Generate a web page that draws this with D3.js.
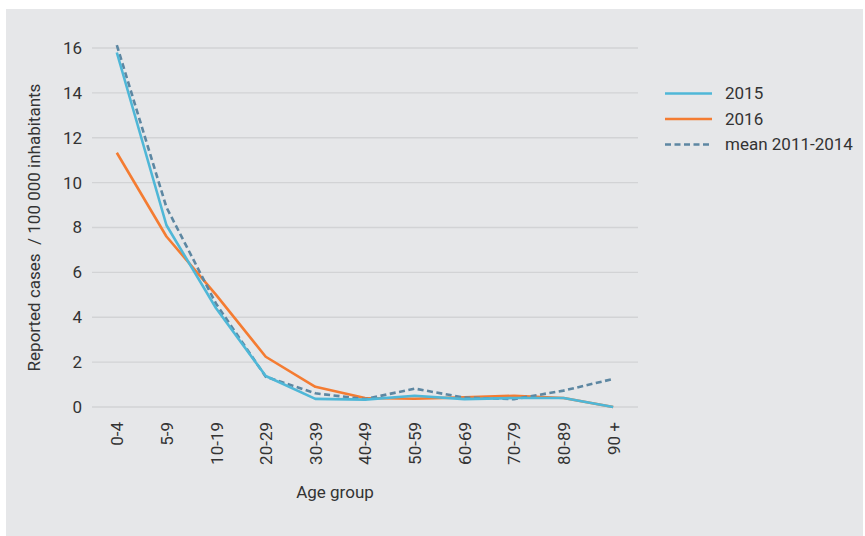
<!DOCTYPE html>
<html><head><meta charset="utf-8">
<script src="https://cdn.jsdelivr.net/npm/d3@7"></script>
<style>
html,body{margin:0;padding:0;background:#fff;}
svg text{font-family:Roboto,"Noto Sans",sans-serif;fill:#333;}
</style></head>
<body>
<svg id="chart" width="865" height="536"></svg>
<script>
const categories = ["0-4","5-9","10-19","20-29","30-39","40-49","50-59","60-69","70-79","80-89","90 +"];
const values2015 = [15.8, 8.1, 4.4, 1.38, 0.36, 0.33, 0.5, 0.35, 0.4, 0.4, 0.0];
const values2016 = [11.33, 7.6, 5.0, 2.24, 0.9, 0.4, 0.37, 0.43, 0.5, 0.4, 0.0];
const valuesMean = [16.13, 8.9, 4.6, 1.35, 0.61, 0.35, 0.82, 0.42, 0.35, 0.73, 1.25];
const yTicks = [0, 2, 4, 6, 8, 10, 12, 14, 16];
const seriesNames = ["2015", "2016", "mean 2011-2014"];

(function () {
const FONT = "Roboto, 'Noto Sans', sans-serif";
const svg = d3.select("#chart");
svg.append("rect").attr("x", 6).attr("y", 9).attr("width", 857).attr("height", 527).attr("fill", "#e6e7e9");

const mLeft = 92, mRight = 638, mTop = 48, mBottom = 407;
const x = d3.scalePoint().domain(categories).range([mLeft, mRight]).padding(0.5);
const y = d3.scaleLinear().domain([0, 16]).range([mBottom, mTop]);

// grid
svg.append("g").selectAll("line").data(yTicks).join("line")
  .attr("x1", mLeft).attr("x2", mRight)
  .attr("y1", d => y(d)).attr("y2", d => y(d))
  .attr("stroke", "#d2d3d5").attr("stroke-width", 1.3);

// y axis
const yAxis = svg.append("g").attr("transform", `translate(${mLeft - 10},0)`)
  .call(d3.axisLeft(y).tickValues(yTicks).tickSize(0).tickPadding(0));
yAxis.select(".domain").remove();
yAxis.selectAll("text").attr("font-size", 17).style("font-family", FONT).attr("fill", "#333");

// x axis
const xAxis = svg.append("g").attr("transform", `translate(0,${mBottom})`)
  .call(d3.axisBottom(x).tickSize(0).tickPadding(0));
xAxis.select(".domain").remove();
xAxis.selectAll("text")
  .attr("font-size", 17).style("font-family", FONT).attr("fill", "#333")
  .attr("text-anchor", "end").attr("dy", "0.35em")
  .attr("transform", "translate(0,15) rotate(-90)")
  .attr("x", 0).attr("y", 0);

// axis titles
svg.append("text").attr("transform", `translate(40,${(mTop + mBottom) / 2}) rotate(-90)`)
  .attr("text-anchor", "middle").attr("font-size", 17).style("white-space", "pre")
  .text("Reported cases  / 100 000 inhabitants");
svg.append("text").attr("x", 335).attr("y", 498).attr("text-anchor", "middle")
  .attr("font-size", 17).text("Age group");

const line = d3.line().x((d, i) => x(categories[i])).y(d => y(d));
const series = [
  {name: seriesNames[0], values: values2015, color: "#4fb7d7", dash: null},
  {name: seriesNames[1], values: values2016, color: "#f47c32", dash: null},
  {name: seriesNames[2], values: valuesMean, color: "#5d87a2", dash: "6,3.5"}
];
const drawOrder = [series[1], series[2], series[0]];
svg.append("g").selectAll("path").data(drawOrder).join("path")
  .attr("d", d => line(d.values))
  .attr("fill", "none").attr("stroke", d => d.color).attr("stroke-width", 2.6)
  .attr("stroke-dasharray", d => d.dash).attr("stroke-linejoin", "round");

// legend
const lg = svg.append("g").selectAll("g").data(series).join("g")
  .attr("transform", (d, i) => `translate(665,${93.5 + i * 25.5})`);
lg.append("line").attr("x1", 0).attr("x2", 47).attr("stroke", d => d.color)
  .attr("stroke-width", 2.6).attr("stroke-dasharray", d => d.dash);
lg.append("text").attr("x", 60).attr("dy", "0.35em").attr("font-size", 17).text(d => d.name);
})();
</script>
</body></html>
